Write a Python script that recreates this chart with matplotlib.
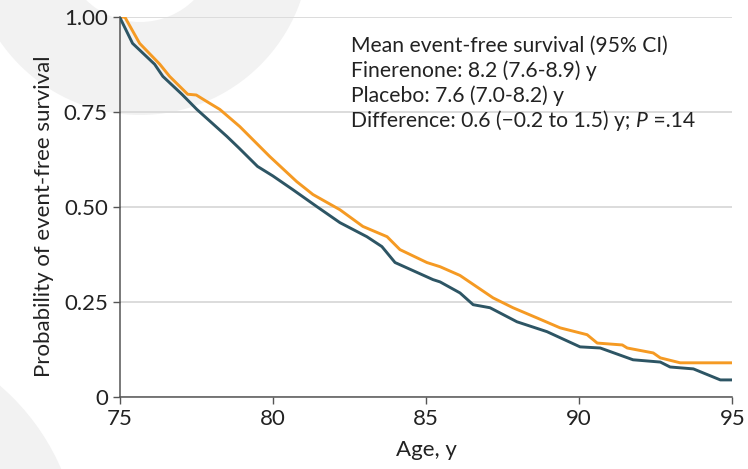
import matplotlib.pyplot as plt
from matplotlib.patches import Wedge, Circle

# Kaplan-Meier style curves (age in years, survival probability)
fin_age = [75, 75.17, 75.65, 76.31, 76.63, 77.22, 77.5, 77.8, 78.27, 78.92, 79.9, 80.78,
           81.31, 82.19, 82.94, 83.73, 84.15, 85.03, 85.46, 86.11, 87.19, 87.84, 88.63,
           89.38, 90.26, 90.59, 91.41, 91.57, 92.42, 92.65, 93.3, 95]
fin_surv = [1.0, 1.0, 0.931, 0.876, 0.844, 0.797, 0.795, 0.78, 0.757, 0.712, 0.633, 0.567,
            0.533, 0.493, 0.449, 0.422, 0.388, 0.354, 0.343, 0.32, 0.261, 0.235, 0.208,
            0.182, 0.164, 0.142, 0.137, 0.129, 0.116, 0.103, 0.09, 0.09]

pla_age = [75, 75.42, 76.14, 76.41, 77.03, 77.52, 78.5, 78.9, 79.5, 80.0, 80.65, 81.44, 82.19,
           83.07, 83.56, 83.99, 85.23, 85.46, 86.11, 86.54, 87.09, 87.97, 88.95, 90.03,
           90.69, 91.76, 92.65, 92.97, 93.73, 94.61, 95]
pla_surv = [1.0, 0.931, 0.876, 0.844, 0.797, 0.757, 0.686, 0.655, 0.607, 0.582, 0.546, 0.501,
            0.459, 0.422, 0.396, 0.354, 0.309, 0.303, 0.274, 0.243, 0.235, 0.198, 0.172, 0.132,
            0.129, 0.098, 0.092, 0.079, 0.074, 0.045, 0.045]

x_ticks = [75, 80, 85, 90, 95]
y_ticks = [0, 0.25, 0.50, 0.75, 1.00]
y_ticklabels = ['0', '0.25', '0.50', '0.75', '1.00']

stats_lines = ['Mean event-free survival (95% CI)',
               'Finerenone: 8.2 (7.6-8.9) y',
               'Placebo: 7.6 (7.0-8.2) y']
diff_text = 'Difference: 0.6 (\u22120.2 to 1.5) y; '

plt.rcParams['font.family'] = ['Lato', 'DejaVu Sans']
text_col = '#222222'

fig = plt.figure(figsize=(7.48, 4.69), dpi=100)

# faint decorative circles behind the chart
bg = fig.add_axes([0, 0, 1, 1], zorder=-1)
bg.set_xlim(0, 748)
bg.set_ylim(469, 0)
bg.axis('off')
bg.add_patch(Wedge((140, -55), 170, 0, 360, width=93, color='#f2f2f2', lw=0))
bg.add_patch(Circle((-150, 560), 230, color='#f2f2f2', lw=0))

ax = fig.add_axes([0.160, 0.1535, 0.819, 0.810])
ax.patch.set_alpha(0)

ax.plot(fin_age, fin_surv, color='#f59a23', lw=2.1, zorder=3)
ax.plot(pla_age, pla_surv, color='#2d5564', lw=2.1, zorder=3)

ax.set_xlim(75, 95)
ax.set_ylim(0, 1.0)
ax.set_xticks(x_ticks)
ax.set_yticks(y_ticks)
ax.set_yticklabels(y_ticklabels)
ax.tick_params(direction='out', length=5, width=1, color='#555555',
               labelsize=16, labelcolor=text_col)
ax.yaxis.grid(True, color='#dcdcdc', lw=1.4)
ax.set_axisbelow(True)
for s in ['top', 'right']:
    ax.spines[s].set_visible(False)
for s in ['left', 'bottom']:
    ax.spines[s].set_color('#555555')
    ax.spines[s].set_linewidth(1.1)

ax.set_xlabel('Age, y', fontsize=16, color=text_col, labelpad=8)
ax.set_ylabel('Probability of event-free survival', fontsize=16, color=text_col)
ax.yaxis.set_label_coords(-0.108, 0.475)

# summary text block
y0 = 0.925
step = 0.066
fs = 15.2
for i, line in enumerate(stats_lines):
    ax.text(0.378, y0 - i * step, line, transform=ax.transAxes, fontsize=fs,
            color=text_col, va='center', ha='left')
t = ax.text(0.378, y0 - 3 * step, diff_text, transform=ax.transAxes, fontsize=fs,
            color=text_col, va='center', ha='left')
p = ax.annotate('P', xy=(1, 0), xycoords=t, va='bottom', ha='left',
                fontsize=fs, color=text_col, style='italic')
ax.annotate(' =.14', xy=(1, 0), xycoords=p, va='bottom', ha='left',
            fontsize=fs, color=text_col)

fig.savefig('out.png', dpi=100)
